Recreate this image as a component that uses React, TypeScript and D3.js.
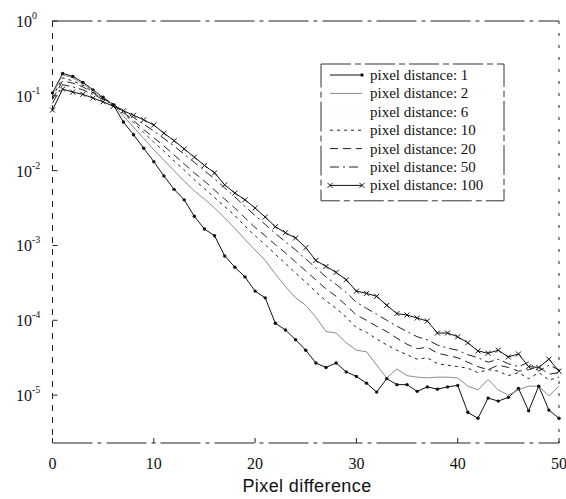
import React from "react";
import * as d3 from "d3";

// pixel difference 0..50
const pixelDiff: number[] = d3.range(0, 51);

// log10 of the probability for each pixel distance
const logDist1: number[] = [
  -0.96, -0.70, -0.74, -0.82, -0.92, -1.02, -1.12, -1.35, -1.52, -1.70,
  -1.88, -2.07, -2.25, -2.39, -2.61, -2.78, -2.87, -3.14, -3.29, -3.42,
  -3.61, -3.70, -4.04, -4.13, -4.26, -4.40, -4.57, -4.63, -4.57, -4.69,
  -4.75, -4.84, -4.96, -4.78, -4.86, -4.86, -4.95, -4.89, -4.92, -4.89,
  -4.87, -5.23, -5.31, -5.04, -5.08, -5.03, -4.91, -5.21, -4.88, -5.20,
  -5.31,
];
const logDist2: number[] = [
  -0.98, -0.72, -0.76, -0.84, -0.93, -1.02, -1.12, -1.27, -1.42, -1.57,
  -1.72, -1.86, -2.00, -2.14, -2.27, -2.38, -2.50, -2.63, -2.77, -2.92,
  -3.06, -3.20, -3.38, -3.55, -3.70, -3.80, -3.96, -4.15, -4.17, -4.30,
  -4.40, -4.42, -4.60, -4.77, -4.65, -4.74, -4.76, -4.77, -4.76, -4.76,
  -4.77, -4.88, -4.93, -4.79, -4.93, -5.00, -4.93, -4.88, -4.88, -5.01,
  -4.88,
];
const logDist6: number[] = [
  -1.00, -0.74, -0.78, -0.85, -0.94, -1.03, -1.12, -1.25, -1.39, -1.53,
  -1.67, -1.80, -1.93, -2.06, -2.19, -2.31, -2.43, -2.56, -2.69, -2.83,
  -2.96, -3.09, -3.24, -3.37, -3.50, -3.62, -3.75, -3.88, -3.98, -4.10,
  -4.24, -4.30, -4.40, -4.48, -4.55, -4.60, -4.66, -4.63, -4.70, -4.68,
  -4.72, -4.75, -4.80, -4.74, -4.82, -4.86, -4.80, -4.84, -4.78, -4.90,
  -4.82,
];
const logDist10: number[] = [
  -1.02, -0.76, -0.80, -0.86, -0.95, -1.03, -1.11, -1.23, -1.36, -1.49,
  -1.62, -1.74, -1.87, -1.99, -2.12, -2.24, -2.36, -2.48, -2.60, -2.74,
  -2.87, -2.99, -3.12, -3.24, -3.37, -3.49, -3.62, -3.74, -3.84, -3.96,
  -4.10, -4.16, -4.25, -4.33, -4.40, -4.46, -4.52, -4.50, -4.58, -4.60,
  -4.62, -4.64, -4.70, -4.66, -4.68, -4.74, -4.70, -4.78, -4.70, -4.80,
  -4.76,
];
const logDist20: number[] = [
  -1.05, -0.80, -0.83, -0.88, -0.96, -1.04, -1.11, -1.22, -1.33, -1.45,
  -1.56, -1.67, -1.79, -1.91, -2.03, -2.14, -2.26, -2.38, -2.50, -2.63,
  -2.76, -2.87, -2.99, -3.10, -3.22, -3.34, -3.46, -3.58, -3.68, -3.80,
  -3.93, -4.00, -4.08, -4.15, -4.24, -4.32, -4.38, -4.36, -4.44, -4.47,
  -4.50, -4.56, -4.62, -4.66, -4.60, -4.63, -4.68, -4.66, -4.62, -4.72,
  -4.70,
];
const logDist50: number[] = [
  -1.10, -0.85, -0.88, -0.92, -0.98, -1.05, -1.12, -1.20, -1.29, -1.38,
  -1.47, -1.57, -1.67, -1.78, -1.89, -2.00, -2.11, -2.23, -2.35, -2.48,
  -2.60, -2.72, -2.84, -2.95, -3.06, -3.18, -3.30, -3.42, -3.52, -3.63,
  -3.76, -3.84, -3.92, -4.00, -4.08, -4.15, -4.22, -4.26, -4.33, -4.37,
  -4.40, -4.46, -4.50, -4.56, -4.52, -4.58, -4.62, -4.56, -4.68, -4.60,
  -4.66,
];
const logDist100: number[] = [
  -1.19, -0.91, -0.95, -0.98, -1.03, -1.08, -1.14, -1.20, -1.26, -1.32,
  -1.39, -1.50, -1.60, -1.71, -1.82, -1.93, -2.03, -2.19, -2.30, -2.39,
  -2.50, -2.62, -2.75, -2.83, -2.90, -3.03, -3.20, -3.28, -3.36, -3.46,
  -3.61, -3.64, -3.68, -3.80, -3.91, -3.93, -3.97, -4.01, -4.17, -4.17,
  -4.22, -4.30, -4.41, -4.44, -4.40, -4.49, -4.45, -4.62, -4.63, -4.52,
  -4.68,
];

const seriesLabels: string[] = [
  "pixel distance: 1",
  "pixel distance: 2",
  "pixel distance: 6",
  "pixel distance: 10",
  "pixel distance: 20",
  "pixel distance: 50",
  "pixel distance: 100",
];
const seriesLogs: number[][] = [logDist1, logDist2, logDist6, logDist10, logDist20, logDist50, logDist100];

const xTicks: number[] = [0, 10, 20, 30, 40, 50];
const yTickExps: number[] = [0, -1, -2, -3, -4, -5];

type Style = { stroke: string; dash: string; width: number; marker: "dot" | "x" | "none" };
const styles: Style[] = [
  { stroke: "#111", dash: "", width: 1, marker: "dot" },
  { stroke: "#8a8a8a", dash: "", width: 1, marker: "none" },
  { stroke: "#dddddd", dash: "1 3", width: 0.8, marker: "none" },
  { stroke: "#222", dash: "3 4", width: 1, marker: "none" },
  { stroke: "#222", dash: "8 5", width: 1, marker: "none" },
  { stroke: "#222", dash: "9 4 2 4", width: 1, marker: "none" },
  { stroke: "#111", dash: "", width: 1, marker: "x" },
];

const W = 566;
const H = 499;
const X0 = 52.5;
const X1 = 559;
const YT = 21;
const YB = 443;

export default function App() {
  const x = d3.scaleLinear().domain([0, 50]).range([X0, X1]);
  const y = d3.scaleLog().domain([Math.pow(10, -5.64), 1]).range([YB, YT]);
  const line = d3
    .line<number>()
    .x((_, i) => x(pixelDiff[i]))
    .y((v) => y(Math.pow(10, v)));

  const serif = "'Liberation Serif', 'DejaVu Serif', serif";
  const sans = "'Liberation Sans', Arial, sans-serif";

  const marker = (m: string, cx: number, cy: number, key: string) => {
    if (m === "dot") return <circle key={key} cx={cx} cy={cy} r={1.7} fill="#111" />;
    if (m === "x")
      return (
        <path
          key={key}
          d={`M${cx - 2.5},${cy - 2.5}L${cx + 2.5},${cy + 2.5}M${cx - 2.5},${cy + 2.5}L${cx + 2.5},${cy - 2.5}`}
          stroke="#111"
          strokeWidth={1}
        />
      );
    return null;
  };

  const legX = 321;
  const legY = 64;
  const legW = 183;
  const legRow = 18.4;

  const frameDash = "40 5 4 5";

  return (
    <svg
      width={W}
      height={H}
      style={{ position: "absolute", left: 0, top: 0, background: "#fff" }}
    >
      <rect x={0} y={0} width={W} height={H} fill="#fff" />
      {/* frame */}
      <g stroke="#222" strokeWidth={1} fill="none">
        <line x1={X0} y1={YT} x2={X1} y2={YT} strokeDasharray={frameDash} />
        <line x1={X0} y1={YB} x2={X1} y2={YB} strokeDasharray={frameDash} />
        <line x1={X0} y1={YT} x2={X0} y2={YB} strokeDasharray="6 6" />
        <line x1={X1} y1={YT} x2={X1} y2={YB} strokeDasharray="3 9" />
      </g>
      {/* ticks */}
      <g stroke="#222" strokeWidth={1}>
        {xTicks.map((t) => (
          <line key={"xt" + t} x1={x(t)} x2={x(t)} y1={YB} y2={YB - 5} />
        ))}
        {yTickExps.map((e) => (
          <line key={"yt" + e} x1={X0} x2={X0 + 5} y1={y(Math.pow(10, e))} y2={y(Math.pow(10, e))} />
        ))}
      </g>
      {/* tick labels */}
      <g fontFamily={serif} fill="#111">
        {xTicks.map((t) => (
          <text key={"xl" + t} x={x(t)} y={469} fontSize={16} textAnchor="middle">
            {t}
          </text>
        ))}
        {yTickExps.map((e) => (
          <text key={"yl" + e} x={16} y={y(Math.pow(10, e)) + 6} fontSize={16}>
            10
            <tspan dy={-8} fontSize={10}>
              {e}
            </tspan>
          </text>
        ))}
      </g>
      <text x={307} y={492} fontFamily={sans} fontSize={18} textAnchor="middle" fill="#111" letterSpacing={0.4}>
        Pixel difference
      </text>
      {/* series */}
      <g fill="none">
        {seriesLogs.map((vals, si) => (
          <path
            key={"s" + si}
            d={line(vals) || ""}
            stroke={styles[si].stroke}
            strokeWidth={styles[si].width}
            strokeDasharray={styles[si].dash || undefined}
          />
        ))}
      </g>
      {seriesLogs.map((vals, si) =>
        styles[si].marker === "none"
          ? null
          : vals.map((v, i) => marker(styles[si].marker, x(pixelDiff[i]), y(Math.pow(10, v)), `m${si}-${i}`))
      )}
      {/* legend */}
      <rect x={legX} y={legY} width={legW} height={legRow * 7 + 8} fill="#fff" stroke="#333" strokeWidth={1} strokeDasharray="30 4 6 4" />
      {seriesLabels.map((lab, i) => {
        const cy = legY + 11 + i * legRow;
        const st = styles[i];
        return (
          <g key={"lg" + i}>
            <line x1={330} x2={362} y1={cy} y2={cy} stroke={st.stroke} strokeWidth={st.width} strokeDasharray={st.dash || undefined} />
            {st.marker === "dot" && marker("dot", 362, cy, "ld")}
            {st.marker === "x" && marker("x", 330, cy, "lx1")}
            {st.marker === "x" && marker("x", 362, cy, "lx2")}
            <text x={370} y={cy + 5} fontFamily={serif} fontSize={15} fill="#111">
              {lab}
            </text>
          </g>
        );
      })}
    </svg>
  );
}
